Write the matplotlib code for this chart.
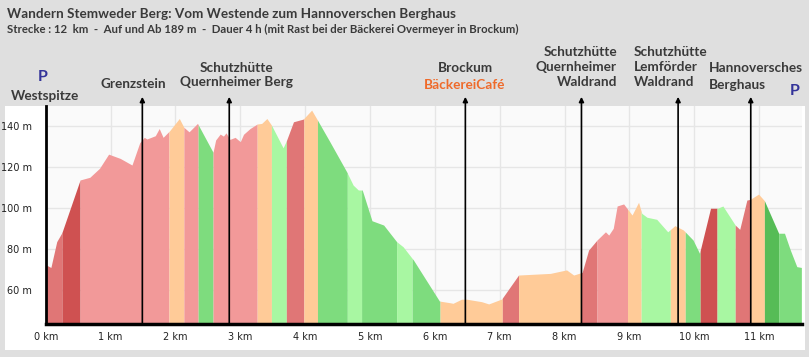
import numpy as np
import matplotlib
matplotlib.use("Agg")
import matplotlib.pyplot as plt
from matplotlib.patches import Rectangle

# elevation profile (km, m)
dist_km = [0.00, 0.02, 0.08, 0.17, 0.25, 0.53, 0.68, 0.83, 0.97, 1.15, 1.33, 1.45, 1.52, 1.56,
           1.69, 1.75, 1.81, 1.91, 2.06, 2.13, 2.21, 2.34, 2.58, 2.62, 2.69, 2.74, 2.78, 2.84,
           2.92, 3.00, 3.05, 3.15, 3.26, 3.33, 3.41, 3.48, 3.66, 3.71, 3.82, 3.97, 4.10, 4.19,
           4.38, 4.64, 4.74, 4.82, 4.88, 5.03, 5.21, 5.41, 5.51, 5.67, 6.07, 6.23, 6.28, 6.41,
           6.49, 6.72, 6.83, 7.03, 7.29, 7.78, 8.03, 8.14, 8.27, 8.37, 8.50, 8.63, 8.68, 8.75,
           8.81, 8.91, 9.04, 9.14, 9.19, 9.27, 9.42, 9.59, 9.70, 9.83, 9.98, 10.08, 10.25, 10.36,
           10.44, 10.63, 10.70, 10.81, 10.86, 10.99, 11.08, 11.30, 11.39, 11.48, 11.58, 11.65]
elev_m = [71.4, 72.0, 71.0, 83.6, 88.0, 113.7, 115.0, 119.4, 126.3, 124.2, 121.0, 131.9, 134.5, 133.7,
          135.3, 138.8, 134.5, 137.7, 143.7, 139.4, 137.2, 141.3, 127.2, 133.2, 136.1, 135.1, 136.7, 133.5,
          134.5, 132.4, 136.0, 138.8, 141.0, 141.3, 143.7, 140.5, 129.4, 132.8, 142.1, 143.4, 147.8, 142.9,
          132.4, 117.7, 111.2, 108.8, 108.8, 93.8, 91.7, 83.6, 81.1, 74.6, 54.6, 53.8, 53.5, 55.5,
          55.5, 54.3, 53.2, 55.6, 67.3, 68.1, 69.8, 67.3, 68.6, 79.5, 84.4, 88.4, 86.8, 90.1,
          101.0, 102.0, 96.6, 102.8, 97.4, 95.5, 94.5, 88.4, 91.4, 89.3, 84.4, 77.9, 99.9, 99.9,
          101.0, 91.7, 89.6, 103.9, 104.2, 106.8, 103.6, 87.7, 87.7, 79.5, 71.4, 71.0]

# slope segments: boundaries (km) and class of each segment
seg_bounds = [0.00, 0.25, 0.53, 1.90, 2.13, 2.35, 2.58, 3.26, 3.48, 3.71, 3.98, 4.19, 4.65, 4.87,
              5.41, 5.65, 6.08, 7.04, 7.29, 8.26, 8.50, 8.97, 9.18, 9.63, 9.86, 10.09, 10.35,
              10.63, 10.86, 11.08, 11.30, 11.65]
seg_class = ["up2", "up3", "up1", "flat", "up1", "down2", "up1", "flat", "down1", "up2", "flat",
             "down2", "down1", "down2", "down1", "down2", "flat", "up2", "flat", "up2", "up1",
             "flat", "down1", "flat", "down2", "up3", "down1", "up2", "flat", "down3", "down2"]
class_colors = {"up1": "#f29999", "up2": "#e07676", "up3": "#cf5151", "flat": "#ffcb98",
                "down1": "#a8f7a2", "down2": "#7edc7e", "down3": "#56bc56"}

# waypoints
wp_km = [1.49, 2.83, 6.47, 8.26, 9.75, 10.87]

x_ticks = list(range(0, 12))
y_ticks = [60, 80, 100, 120, 140]

W, H = 809, 357
fig = plt.figure(figsize=(W / 100, H / 100), dpi=100, facecolor="#dfdfdf")

def fx(px):
    return px / W

def fy(py):
    return 1 - py / H

# white panel behind the chart
fig.patches.append(Rectangle((fx(5), fy(350)), fx(800), (350 - 106) / H,
                             transform=fig.transFigure, facecolor="white", edgecolor="none", zorder=-5))

ax = fig.add_axes([fx(45.7), fy(324), fx(802 - 45.7), (324 - 106) / H])
ax.set_zorder(2)
ax.set_facecolor("#fafafa")

d = np.array(dist_km)
e = np.array(elev_m)
for a, b, c in zip(seg_bounds[:-1], seg_bounds[1:], seg_class):
    inner = d[(d > a) & (d < b)]
    xs = np.concatenate([[a], inner, [b]])
    ys = np.interp(xs, d, e)
    ax.fill_between(xs, 0, ys, color=class_colors[c], lw=0, zorder=2)

ax.set_xlim(0, 11.66)
ax.set_ylim(43.4, 149.8)
ax.set_xticks(x_ticks)
ax.set_xticklabels([f"{k} km" for k in x_ticks])
ax.set_yticks(y_ticks)
ax.set_yticklabels([f"{v} m" for v in y_ticks])
ax.grid(True, color="#e6e6e6", lw=1, zorder=1)
ax.set_axisbelow(True)
ax.tick_params(length=0, labelsize=7, colors="#222222")
ax.tick_params(axis="y", pad=10)
ax.tick_params(axis="x", pad=6)
for s in ["top", "right"]:
    ax.spines[s].set_visible(False)
ax.spines["left"].set_linewidth(2)
ax.spines["bottom"].set_linewidth(2.5)
ax.spines["left"].set_zorder(5)
ax.spines["bottom"].set_zorder(5)

for k in wp_km:
    ax.annotate("", xy=(k, 1.042), xytext=(k, 0), xycoords=("data", "axes fraction"),
                textcoords=("data", "axes fraction"), annotation_clip=False,
                arrowprops=dict(arrowstyle="-|>", lw=1.2, color="black", mutation_scale=7,
                                shrinkA=0, shrinkB=0), zorder=6)

font = "Lato"
txt = "#3a3a3a"
fig.text(fx(7), fy(14), "Wandern Stemweder Berg: Vom Westende zum Hannoverschen Berghaus",
         fontsize=9.7, fontweight="bold", family=font, color=txt, va="center")
fig.text(fx(7), fy(29), "Strecke : 12  km  -  Auf und Ab 189 m  -  Dauer 4 h (mit Rast bei der Bäckerei Overmeyer in Brockum)",
         fontsize=8.2, fontweight="bold", family=font, color=txt, va="center")

lab = dict(fontsize=9.8, fontweight="bold", family=font, color=txt, va="center", linespacing=1.25)
fig.text(fx(43), fy(77), "P", fontsize=11.5, fontweight="bold", family=font, color="#333399", ha="center", va="center")
fig.text(fx(45), fy(96), "Westspitze", ha="center", **lab)
fig.text(fx(133), fy(84), "Grenzstein", ha="center", **lab)
fig.text(fx(236), fy(75), "Schutzhütte\nQuernheimer Berg", ha="center", multialignment="center", **lab)
fig.text(fx(465), fy(68), "Brockum", ha="center", **lab)
fig.text(fx(465), fy(85), "BäckereiCafé", ha="center", **{**lab, "color": "#ef6a2a"})
fig.text(fx(617), fy(67), "Schutzhütte\nQuernheimer\nWaldrand", ha="right", multialignment="right", **lab)
fig.text(fx(634), fy(67), "Schutzhütte\nLemförder\nWaldrand", ha="left", multialignment="left", **lab)
fig.text(fx(709), fy(68), "Hannoversches", ha="left", **lab)
fig.text(fx(709), fy(85), "Berghaus", ha="left", **lab)
fig.text(fx(795), fy(91), "P", fontsize=11.5, fontweight="bold", family=font, color="#333399", ha="center", va="center")

fig.savefig("out.png", dpi=100, facecolor=fig.get_facecolor())
